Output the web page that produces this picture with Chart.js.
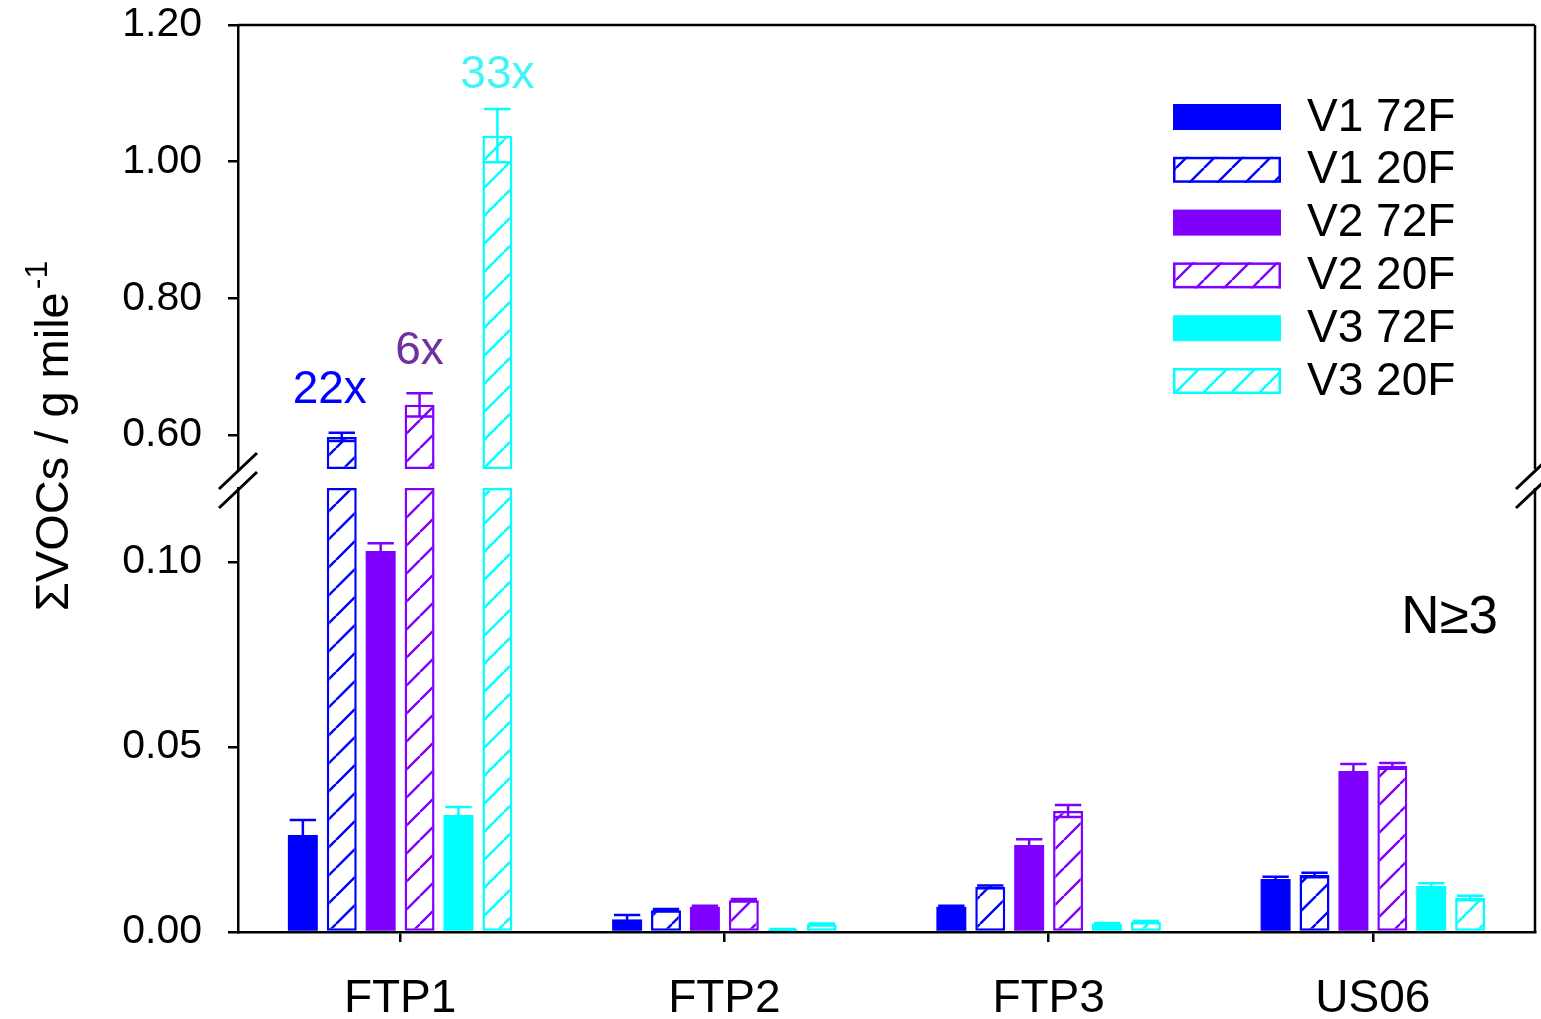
<!DOCTYPE html>
<html>
<head>
<meta charset="utf-8">
<title>ΣVOCs emissions by drive cycle</title>
<script src="https://cdn.jsdelivr.net/npm/chart.js@4.4.1/dist/chart.umd.min.js"></script>
<style>
  html, body { margin: 0; padding: 0; background: #ffffff; }
  #wrap { width: 1541px; height: 1019px; position: relative; }
</style>
</head>
<body>
<div id="wrap"><canvas id="chart" width="1541" height="1019"></canvas></div>
<script>
// ---- data ----
const categories = ['FTP1', 'FTP2', 'FTP3', 'US06'];
const seriesLabels = ['V1 72F', 'V1 20F', 'V2 72F', 'V2 20F', 'V3 72F', 'V3 20F'];

const v1_72F = [0.0262, 0.0034, 0.0068, 0.0143];
const v1_20F = [0.597, 0.0059, 0.0122, 0.0154];
const v2_72F = [0.1030, 0.0068, 0.0235, 0.0435];
const v2_20F = [0.644, 0.0086, 0.0327, 0.0449];
const v3_72F = [0.0316, 0.0007, 0.0022, 0.0124];
const v3_20F = [1.038, 0.0021, 0.0027, 0.0092];

const v1_72F_err = [0.0041, 0.0012, 0.0003, 0.0006];
const v1_20F_err = [0.006, 0.0003, 0.0004, 0.0006];
const v2_72F_err = [0.0021, 0.0003, 0.0016, 0.0019];
const v2_20F_err = [0.017, 0.0003, 0.0016, 0.0008];
const v3_72F_err = [0.0022, 0.0001, 0.0002, 0.0008];
const v3_20F_err = [0.039, 0.0002, 0.0003, 0.0006];

// broken value axis: lower and upper segments
const lowerRange = [0, 0.12];
const upperRange = [0.55, 1.20];
const lowerTicks = [0.00, 0.05, 0.10];
const upperTicks = [0.60, 0.80, 1.00, 1.20];

// fold-increase notes above the cold-start bars
const noteTexts = ['22x', '6x', '33x'];
const noteSeries = [1, 3, 5];
const noteCategory = [0, 0, 0];

// ---- styling ----
const FONT = "'Liberation Sans', Arial, Helvetica, sans-serif";
const C_V1 = '#0000ff';
const C_V2 = '#7f00ff';
const C_V3 = '#00ffff';
const noteColors = ['#0000ff', '#7030a0', '#3ff5f5'];

function hatch(color) {
  const s = 28;
  const c = document.createElement('canvas');
  c.width = s; c.height = s;
  const g = c.getContext('2d');
  g.fillStyle = '#ffffff';
  g.fillRect(0, 0, s, s);
  g.strokeStyle = color;
  g.lineWidth = 2.4;
  g.beginPath();
  for (const k of [-s, 0, s]) { g.moveTo(k, s); g.lineTo(k + s, 0); }
  g.stroke();
  return g.createPattern(c, 'repeat');
}

const seriesValues = [v1_72F, v1_20F, v2_72F, v2_20F, v3_72F, v3_20F];
const seriesErrors = [v1_72F_err, v1_20F_err, v2_72F_err, v2_20F_err, v3_72F_err, v3_20F_err];
const seriesColors = [C_V1, C_V1, C_V2, C_V2, C_V3, C_V3];
const seriesHatched = [false, true, false, true, false, true];

const datasets = [];
seriesLabels.forEach((label, i) => {
  const color = seriesColors[i];
  const hatched = seriesHatched[i];
  const style = hatched
    ? { backgroundColor: hatch(color), borderColor: color, borderWidth: 2.5, borderSkipped: false }
    : { backgroundColor: color, borderColor: color, borderWidth: 0 };
  // lower segment (clamped at the break)
  datasets.push(Object.assign({
    label: label,
    data: seriesValues[i].map(v => Math.min(v, lowerRange[1])),
    values: seriesValues[i],
    errors: seriesErrors[i],
    yAxisID: 'yLow',
    stack: 's' + i,
    series: i
  }, style));
  // upper segment (only bars that reach past the break)
  datasets.push(Object.assign({
    label: label,
    data: seriesValues[i].map(v => (v >= upperRange[0] ? v : null)),
    values: seriesValues[i],
    errors: seriesErrors[i],
    yAxisID: 'yHigh',
    stack: 's' + i,
    base: upperRange[0],
    series: i
  }, style));
});

// symmetric error bars with caps
const errorBars = {
  id: 'errorBars',
  afterDatasetsDraw(chart) {
    const ctx = chart.ctx;
    chart.data.datasets.forEach((ds, di) => {
      const meta = chart.getDatasetMeta(di);
      const ys = chart.scales[ds.yAxisID];
      ds.values.forEach((v, i) => {
        if (v < ys.min || v > ys.max) return;
        const el = meta.data[i];
        if (!el) return;
        const e = ds.errors[i];
        const x = el.x;
        const half = el.width * 0.44;
        const yT = ys.getPixelForValue(v + e);
        const yB = ys.getPixelForValue(Math.max(v - e, ys.min));
        ctx.save();
        ctx.strokeStyle = seriesColors[ds.series];
        ctx.lineWidth = 2.5;
        ctx.beginPath();
        ctx.moveTo(x, yB); ctx.lineTo(x, yT);
        ctx.moveTo(x - half, yT); ctx.lineTo(x + half, yT);
        if (v - e > ys.min) { ctx.moveTo(x - half, yB); ctx.lineTo(x + half, yB); }
        ctx.stroke();
        ctx.restore();
      });
    });
  }
};

// frame, axis breaks, title, legend and notes
const decorations = {
  id: 'decorations',
  afterDraw(chart) {
    const ctx = chart.ctx;
    const a = chart.chartArea;
    const hi = chart.scales.yHigh, lo = chart.scales.yLow;
    ctx.save();
    ctx.strokeStyle = '#000';
    ctx.lineWidth = 2.5;
    ctx.beginPath();
    ctx.moveTo(a.left, a.top); ctx.lineTo(a.right, a.top);
    ctx.moveTo(a.right, hi.top); ctx.lineTo(a.right, hi.bottom);
    ctx.moveTo(a.right, lo.top); ctx.lineTo(a.right, lo.bottom);
    ctx.stroke();
    // break marks
    ctx.lineWidth = 3;
    ctx.beginPath();
    for (const x of [a.left, a.right]) {
      for (const y of [hi.bottom + 2, lo.top + 2]) {
        ctx.moveTo(x - 19, y + 18); ctx.lineTo(x + 19, y - 18);
      }
    }
    ctx.stroke();

    // y-axis title
    ctx.save();
    ctx.translate(68, 436);
    ctx.rotate(-Math.PI / 2);
    ctx.fillStyle = '#000';
    ctx.textBaseline = 'alphabetic';
    ctx.font = '47px ' + FONT;
    const main = 'ΣVOCs / g mile';
    const sup = '-1';
    const wMain = ctx.measureText(main).width;
    ctx.font = '32px ' + FONT;
    const wSup = ctx.measureText(sup).width;
    const start = -(wMain + wSup + 3) / 2;
    ctx.font = '47px ' + FONT;
    ctx.textAlign = 'left';
    ctx.fillText(main, start, 0);
    ctx.font = '32px ' + FONT;
    ctx.fillText(sup, start + wMain + 3, -21);
    ctx.restore();

    // legend
    const lx = 1173, ly = 104, step = 52.8, bw = 108, bh = 26;
    ctx.font = '46px ' + FONT;
    ctx.textBaseline = 'middle';
    ctx.textAlign = 'left';
    seriesLabels.forEach((label, i) => {
      const ds = chart.data.datasets[i * 2];
      const y = ly + i * step;
      if (seriesHatched[i]) {
        ctx.fillStyle = ds.backgroundColor;
        ctx.fillRect(lx, y, bw, bh);
        ctx.strokeStyle = seriesColors[i];
        ctx.lineWidth = 2.5;
        ctx.strokeRect(lx + 1.25, y + 1.25, bw - 2.5, bh - 2.5);
      } else {
        ctx.fillStyle = seriesColors[i];
        ctx.fillRect(lx, y, bw, bh);
      }
      ctx.fillStyle = '#000';
      ctx.fillText(label, 1307, y + bh / 2 + 1);
    });

    // fold-increase notes
    const noteDx = [-12, 0, 0];
    const noteLift = [30, 29, 21];
    ctx.textAlign = 'center';
    ctx.textBaseline = 'alphabetic';
    ctx.font = '46px ' + FONT;
    noteTexts.forEach((t, k) => {
      const s = noteSeries[k], c = noteCategory[k];
      const el = chart.getDatasetMeta(s * 2 + 1).data[c];
      const top = hi.getPixelForValue(seriesValues[s][c] + seriesErrors[s][c]);
      ctx.fillStyle = noteColors[k];
      ctx.fillText(t, el.x + noteDx[k], top - noteLift[k]);
    });

    // sample size note
    ctx.fillStyle = '#000';
    ctx.textAlign = 'right';
    ctx.textBaseline = 'middle';
    ctx.font = '53px ' + FONT;
    ctx.fillText('N≥3', a.right - 37, 618);
    ctx.restore();
  }
};

const tickFont = { family: FONT, size: 41 };
const yCommon = {
  type: 'linear',
  position: 'left',
  stack: 'v',
  stacked: false,
  border: { display: true, color: '#000', width: 2.5 },
  grid: { drawOnChartArea: false, drawTicks: true, tickLength: 10, color: '#000', lineWidth: 2.5 },
  ticks: { font: tickFont, color: '#000', padding: 26, callback: v => Number(v).toFixed(2) },
  afterFit: s => { s.width = 116; s.paddingTop = 0; s.paddingBottom = 0; }
};

// left-side stacked scales are laid out bottom-up: lower segment first
new Chart(document.getElementById('chart'), {
  type: 'bar',
  data: { labels: categories, datasets: datasets },
  plugins: [errorBars, decorations],
  options: {
    responsive: false,
    animation: false,
    devicePixelRatio: 1,
    categoryPercentage: 0.72,
    barPercentage: 0.77,
    layout: { padding: { left: 122, right: 6, top: 25, bottom: 0 } },
    plugins: { legend: { display: false }, tooltip: { enabled: false } },
    scales: {
      x: {
        type: 'category',
        border: { display: true, color: '#000', width: 2.5 },
        grid: { offset: false, drawOnChartArea: false, drawTicks: true, tickLength: 10, color: '#000', lineWidth: 2.5 },
        ticks: { font: { family: FONT, size: 46 }, color: '#000', padding: 30, maxRotation: 0 },
        afterFit: s => { s.height = 87; }
      },
      yLow: Object.assign({}, yCommon, {
        min: lowerRange[0], max: lowerRange[1], stackWeight: 444,
        afterBuildTicks: s => { s.ticks = lowerTicks.map(v => ({ value: v })); }
      }),
      yGap: { type: 'linear', position: 'left', stack: 'v', stackWeight: 19, display: false, min: 0, max: 1 },
      yHigh: Object.assign({}, yCommon, {
        min: upperRange[0], max: upperRange[1], stackWeight: 444,
        afterBuildTicks: s => { s.ticks = upperTicks.map(v => ({ value: v })); }
      })
    }
  }
});
</script>
</body>
</html>
